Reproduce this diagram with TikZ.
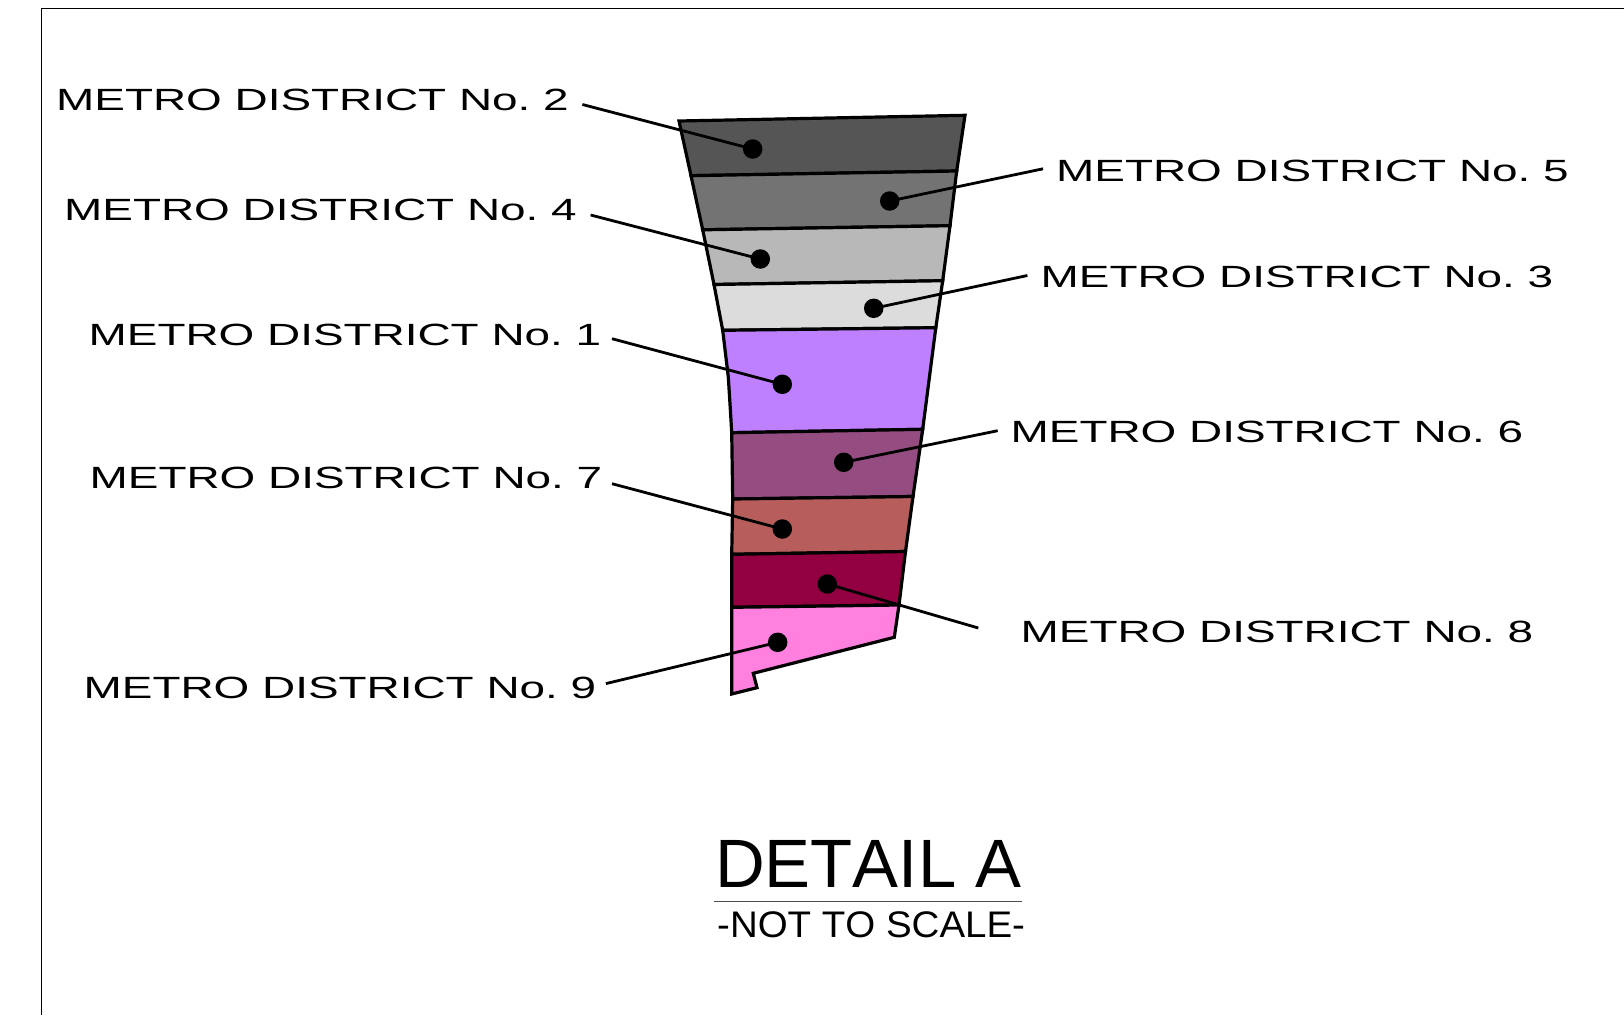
\documentclass[tikz,border=0pt]{standalone}
\usepackage{fontspec}
\setmainfont{Liberation Sans}
\newfontfamily\labfont[FakeStretch=1.495,Kerning=Off]{Liberation Sans}
\newfontfamily\titlefont[FakeStretch=1.007,Kerning=Off]{Liberation Sans}
\newfontfamily\subfont[FakeStretch=1.04,Kerning=Off]{Liberation Sans}
\definecolor{cTwo}{HTML}{555555}
\definecolor{cFive}{HTML}{737373}
\definecolor{cFour}{HTML}{B8B8B8}
\definecolor{cThree}{HTML}{DCDCDC}
\definecolor{cOne}{HTML}{BF80FF}
\definecolor{cSix}{HTML}{954C80}
\definecolor{cSeven}{HTML}{B75E5C}
\definecolor{cEight}{HTML}{930041}
\definecolor{cNine}{HTML}{FF80DF}
\tikzset{
  band/.style={draw=black,line width=3.2pt,line join=miter},
  dotnode/.style={circle,fill=black,inner sep=0pt,minimum size=19.5pt},
  leader/.style={draw=black,line width=2.8pt},
  lab/.style={anchor=base west,inner sep=0pt,font=\labfont\fontsize{30.7}{32}\selectfont},
}
\newcommand{\mdlabel}[1]{METRO DISTRICT No.\ #1}
\begin{document}
\begin{tikzpicture}[x=1pt,y=-1pt]
\useasboundingbox (0,0) rectangle (1624,1015);
\draw[line width=1.3pt] (41.5,1015) -- (41.5,8.5) -- (1624,8.5);
% bands
\draw[band,fill=cTwo] (679,121) -- (965,115.3) -- (956.7,171) -- (691,175.7) -- cycle;
\draw[band,fill=cFive] (691,175.7) -- (956.7,171) -- (950,225.7) -- (702.7,229.8) -- cycle;
\draw[band,fill=cFour] (702.7,229.8) -- (950,225.7) -- (942.7,280.7) -- (714,284.5) -- cycle;
\draw[band,fill=cThree] (714,284.5) -- (942.7,280.7) -- (935.8,327.7) -- (722.7,330.3) -- cycle;
\draw[band,fill=cOne] (722.7,330.3) -- (935.8,327.7) -- (922.7,429.3) -- (731.7,432.7) -- (730.5,412) -- (728.3,377) -- cycle;
\draw[band,fill=cSix] (731.7,432.7) -- (922.7,429.3) -- (913,496.5) -- (732.7,499) -- cycle;
\draw[band,fill=cSeven] (732.7,499) -- (913,496.5) -- (905.5,551.5) -- (731.7,554.3) -- cycle;
\draw[band,fill=cEight] (731.7,554.3) -- (905.5,551.5) -- (899,605) -- (731.7,607.3) -- cycle;
\draw[band,fill=cNine] (731.7,607.3) -- (899,605) -- (894.3,637.3) -- (753.3,673.3) -- (757,687.7) -- (731.7,694) -- cycle;
% labels
\node[lab] (l2) at (56,110) {\mdlabel{2}};
\node[lab] (l5) at (1056,181) {\mdlabel{5}};
\node[lab] (l4) at (64,220.7) {\mdlabel{4}};
\node[lab] (l3) at (1040.5,287.5) {\mdlabel{3}};
\node[lab] (l1) at (88.5,345) {\mdlabel{1}};
\node[lab] (l6) at (1010.5,442) {\mdlabel{6}};
\node[lab] (l7) at (89.5,488) {\mdlabel{7}};
\node[lab] (l8) at (1020.5,642) {\mdlabel{8}};
\node[lab] (l9) at (83.5,698) {\mdlabel{9}};
% dots
\node[dotnode] (d2) at (752.7,149) {};
\node[dotnode] (d5) at (889.7,201) {};
\node[dotnode] (d4) at (760.3,259) {};
\node[dotnode] (d3) at (873.7,308.3) {};
\node[dotnode] (d1) at (782.3,384.3) {};
\node[dotnode] (d6) at (843.7,462.3) {};
\node[dotnode] (d7) at (782.3,529) {};
\node[dotnode] (d8) at (827.3,584) {};
\node[dotnode] (d9) at (777.7,642.3) {};
% leader ends
\coordinate (e2) at (582.4,104.5);
\coordinate (e5) at (1043,168.8);
\coordinate (e4) at (590.6,215);
\coordinate (e3) at (1027.4,275.5);
\coordinate (e1) at (612,338.7);
\coordinate (e6) at (997.7,430.7);
\coordinate (e7) at (612,483.7);
\coordinate (e8) at (978.3,628);
\coordinate (e9) at (605.9,683.6);
\foreach \n in {1,...,9}{\draw[leader] (e\n) -- (d\n.center);}
% title
\node[anchor=base west,inner sep=0pt,font=\titlefont\fontsize{68.4}{70}\selectfont] (title) at (715,887.3) {DETAIL A};
\node[anchor=base west,inner sep=0pt,font=\subfont\fontsize{37}{38}\selectfont] (sub) at (717,937.3) {-NOT TO SCALE-};
\coordinate (ua) at (714,901.7);
\coordinate (ub) at (1022.3,901.7);
\draw[line width=1pt,draw=black!70] (ua) -- (ub);
\end{tikzpicture}
\end{document}
